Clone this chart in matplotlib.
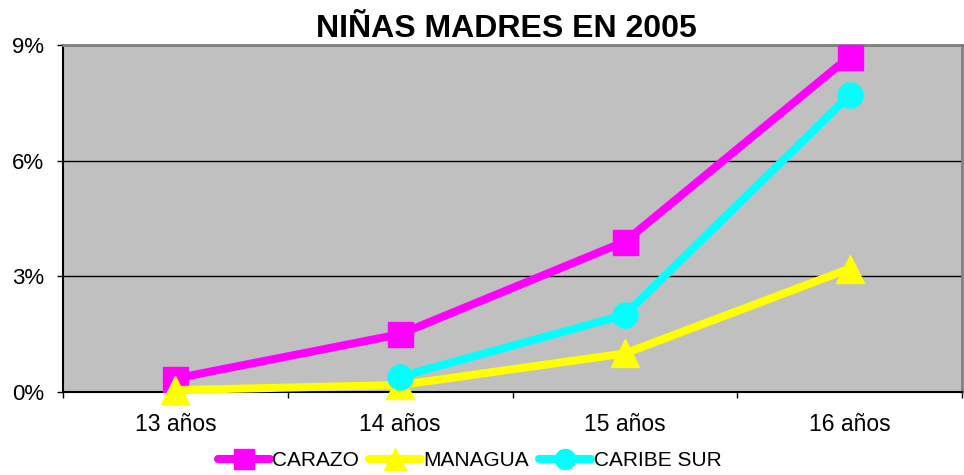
import matplotlib
matplotlib.use("Agg")
import matplotlib.pyplot as plt
from matplotlib.ticker import FixedLocator, FuncFormatter

plt.rcParams['font.family'] = ['Liberation Sans', 'DejaVu Sans']

categories = ["13 años", "14 años", "15 años", "16 años"]
carazo = [0.35, 1.5, 3.9, 8.7]
managua = [0.05, 0.18, 1.0, 3.2]
caribe_sur = [None, 0.4, 2.0, 7.7]
yticks = [0, 3, 6, 9]

fig = plt.figure(figsize=(9.64, 4.75), dpi=100)
ax = fig.add_axes([63/964, 83/475, 899/964, 347/475])
ax.set_facecolor('#C0C0C0')

x = list(range(len(categories)))
lw = 5.8
ax.plot(x, carazo, color='#FF00FF', lw=lw, marker='s', ms=18, label='CARAZO',
        clip_on=False, zorder=3, solid_capstyle='round')
ax.plot(x, managua, color='#FFFF00', lw=lw, marker='^', ms=20, label='MANAGUA',
        clip_on=False, zorder=4, solid_capstyle='round')
xc = [i for i, v in zip(x, caribe_sur) if v is not None]
yc = [v for v in caribe_sur if v is not None]
ax.plot(xc, yc, color='#00FFFF', lw=lw, marker='o', ms=18, label='CARIBE SUR',
        clip_on=False, zorder=5, solid_capstyle='round')

ax.set_xlim(-0.5, 3.5)
ax.set_ylim(0, 9)
ax.yaxis.set_major_locator(FixedLocator(yticks))
ax.yaxis.set_major_formatter(FuncFormatter(lambda v, p: f"{int(v)}%"))
ax.grid(axis='y', color='black', lw=1)
ax.set_axisbelow(True)

ax.set_xticks(x)
ax.set_xticklabels(categories)
ax.set_xticks([-0.5, 0.5, 1.5, 2.5, 3.5], minor=True)
ax.tick_params(axis='x', which='major', length=0, pad=15, labelsize=16.5)
ax.tick_params(axis='x', which='minor', length=4.5, width=1, direction='out')
ax.tick_params(axis='y', length=4.5, width=1, direction='out', labelsize=16, pad=9)

for s in ['top', 'right']:
    ax.spines[s].set_color('#808080')
    ax.spines[s].set_linewidth(2)
for s in ['left', 'bottom']:
    ax.spines[s].set_color('black')
    ax.spines[s].set_linewidth(1.5)

ax.set_title("NIÑAS MADRES EN 2005", fontsize=23, fontweight='bold', pad=6, x=0.493)

leg = fig.legend(loc='center', bbox_to_anchor=(0.487, 0.03), ncol=3, frameon=False,
                 fontsize=15, handlelength=2.5, handletextpad=0.1, columnspacing=0.5,
                 markerscale=0.8)

fig.savefig("out.png", dpi=100)
